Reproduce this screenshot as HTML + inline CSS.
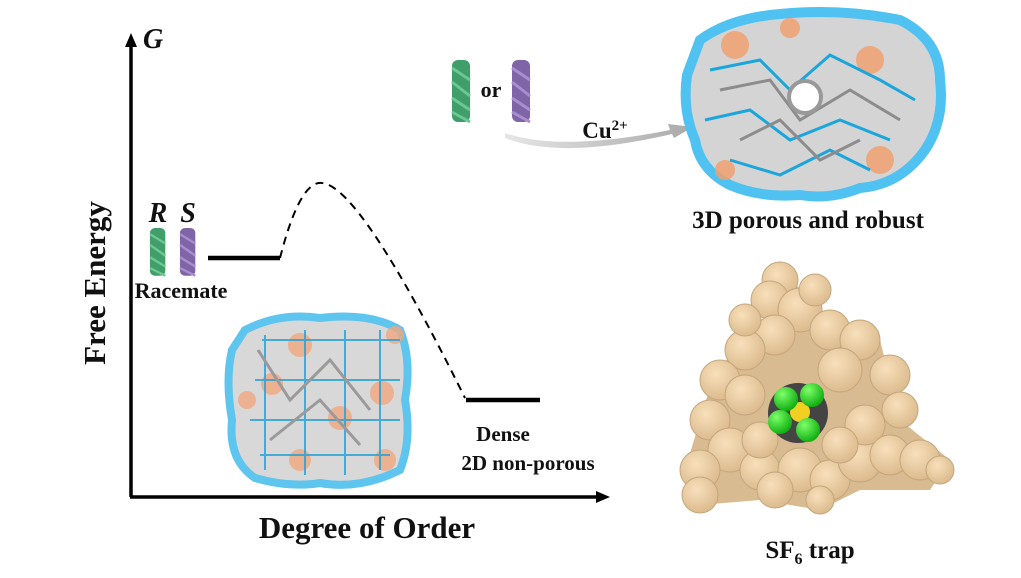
<!DOCTYPE html>
<html><head><meta charset="utf-8"><style>
html,body{margin:0;padding:0;background:#fff;}
svg{display:block;}
text{font-family:"Liberation Serif",serif;font-weight:bold;fill:#111;}
</style></head><body>
<svg width="1021" height="578" viewBox="0 0 1021 578" xmlns="http://www.w3.org/2000/svg">
<defs>
<radialGradient id="tan" cx="40%" cy="35%" r="65%"><stop offset="0" stop-color="#f8e0bb"/><stop offset="1" stop-color="#dcbb8e"/></radialGradient>
<radialGradient id="grn" cx="35%" cy="30%" r="70%"><stop offset="0" stop-color="#7dff6a"/><stop offset="1" stop-color="#12b012"/></radialGradient>
<linearGradient id="arr" x1="0" x2="1"><stop offset="0" stop-color="#e6e6e6"/><stop offset="1" stop-color="#a9a9a9"/></linearGradient>
<g id="helixG"><rect x="0" y="0" width="18" height="62" rx="6" fill="#3f9e6a"/><path d="M0 8 L18 20 M0 22 L18 36 M0 38 L18 50 M0 52 L18 62" stroke="#6cc792" stroke-width="3"/></g>
<g id="helixP"><rect x="0" y="0" width="18" height="62" rx="6" fill="#8064a8"/><path d="M0 8 L18 20 M0 22 L18 36 M0 38 L18 50 M0 52 L18 62" stroke="#a88fcb" stroke-width="3"/></g>
</defs>

<!-- axes -->
<line x1="131" y1="497" x2="131" y2="44" stroke="#000" stroke-width="3.5"/>
<polygon points="131,33 125,47 137,47" fill="#000"/>
<line x1="130" y1="497" x2="598" y2="497" stroke="#000" stroke-width="3.5"/>
<polygon points="610,497 596,491 596,503" fill="#000"/>
<text x="143" y="48" font-size="28" font-style="italic">G</text>
<text transform="translate(105,283) rotate(-90)" font-size="31" text-anchor="middle">Free Energy</text>
<text x="367" y="538" font-size="31" text-anchor="middle">Degree of Order</text>

<!-- levels -->
<line x1="208" y1="258" x2="280" y2="258" stroke="#000" stroke-width="4.5"/>
<path d="M280 258 Q300 180 322 183 Q360 186 465 398" fill="none" stroke="#000" stroke-width="2" stroke-dasharray="8,6"/>
<line x1="466" y1="400" x2="540" y2="400" stroke="#000" stroke-width="4.5"/>
<text x="503" y="441" font-size="21" text-anchor="middle">Dense</text>
<text x="528" y="470" font-size="21" text-anchor="middle">2D non-porous</text>

<text x="158" y="222" font-size="28" font-style="italic" text-anchor="middle">R</text>
<text x="188" y="222" font-size="28" font-style="italic" text-anchor="middle">S</text>
<g transform="translate(150,228) scale(0.85,0.77)"><use href="#helixG"/></g>
<g transform="translate(180,228) scale(0.85,0.77)"><use href="#helixP"/></g>
<text x="181" y="298" font-size="22" text-anchor="middle">Racemate</text>

<!-- bottom-left molecule -->
<g>
<path d="M245 330 Q280 312 320 318 Q370 312 400 330 Q412 360 405 400 Q412 440 400 470 Q360 490 320 483 Q290 488 255 478 Q228 460 232 420 Q225 380 232 350 Z" fill="#d8d8d8" stroke="#5ec5ef" stroke-width="8"/>
<circle cx="300" cy="345" r="12" fill="#f0a880" opacity=".8"/><circle cx="272" cy="384" r="11" fill="#f0a880" opacity=".8"/>
<circle cx="382" cy="393" r="12" fill="#f0a880" opacity=".8"/><circle cx="340" cy="418" r="12" fill="#f0a880" opacity=".8"/>
<circle cx="300" cy="460" r="11" fill="#f0a880" opacity=".8"/><circle cx="385" cy="460" r="11" fill="#f0a880" opacity=".8"/>
<circle cx="247" cy="400" r="9" fill="#f0a880" opacity=".8"/><circle cx="395" cy="335" r="9" fill="#f0a880" opacity=".8"/>
<path d="M262 340 L400 340 M255 380 L400 380 M250 420 L400 420 M260 455 L390 455 M265 335 L265 470 M305 330 L305 475 M345 330 L345 475 M380 330 L380 470" stroke="#1fa0d8" stroke-width="2" fill="none" opacity=".8"/>
<path d="M258 350 L290 400 L330 360 L370 410 M270 440 L320 400 L360 445" stroke="#9a9a9a" stroke-width="3" fill="none"/>
</g>

<!-- top helices + arrow -->
<use href="#helixG" x="452" y="60"/>
<text x="491" y="97" font-size="22" text-anchor="middle">or</text>
<use href="#helixP" x="512" y="60"/>
<path d="M505 133 Q560 152 670 130 L668 124 L693 127 L674 138 L672 134 Q560 160 505 138 Z" fill="url(#arr)"/>
<text x="605" y="138" font-size="23" text-anchor="middle">Cu<tspan font-size="15" dy="-8">2+</tspan></text>

<!-- top molecule -->
<g>
<path d="M700 40 Q730 18 780 14 Q840 8 900 20 Q940 40 940 80 Q945 120 925 150 Q900 185 860 188 Q830 200 800 195 Q760 198 730 185 Q700 170 695 140 Q682 110 687 75 Z" fill="#d4d4d4" stroke="#4fc2f2" stroke-width="10"/>
<circle cx="735" cy="45" r="14" fill="#f0a070" opacity=".85"/><circle cx="870" cy="60" r="14" fill="#f0a070" opacity=".85"/>
<circle cx="880" cy="160" r="14" fill="#f0a070" opacity=".85"/><circle cx="725" cy="170" r="10" fill="#f0a070" opacity=".85"/>
<circle cx="790" cy="28" r="10" fill="#f0a070" opacity=".85"/>
<path d="M710 70 L760 60 L790 90 L830 55 L880 80 L915 100 M705 120 L750 110 L790 140 L840 120 L890 140 M730 160 L780 175 L830 150 L870 170" stroke="#1aa6dc" stroke-width="3" fill="none"/>
<path d="M720 90 L770 80 L800 120 L850 90 L900 120 M740 140 L780 120 L820 160 L860 140" stroke="#8c8c8c" stroke-width="3" fill="none"/>
<circle cx="805" cy="97" r="16" fill="#fff" stroke="#999" stroke-width="4"/>
</g>
<text x="808" y="228" font-size="25" text-anchor="middle">3D porous and robust</text>

<!-- SF6 trap -->
<path d="M780 268 L830 320 L880 340 L900 420 L950 460 L930 490 L860 490 L820 510 L760 500 L700 505 L685 470 L700 420 L715 370 L760 330 Z" fill="#d9bb92"/>
<g fill="url(#tan)" stroke="#c4a67d" stroke-width="1">
<circle cx="780" cy="280" r="18"/><circle cx="770" cy="300" r="19"/><circle cx="800" cy="310" r="22"/><circle cx="775" cy="335" r="20"/>
<circle cx="830" cy="330" r="20"/><circle cx="860" cy="340" r="20"/><circle cx="840" cy="370" r="22"/><circle cx="890" cy="375" r="20"/>
<circle cx="745" cy="350" r="20"/><circle cx="720" cy="380" r="20"/><circle cx="745" cy="395" r="20"/><circle cx="710" cy="420" r="20"/>
<circle cx="730" cy="450" r="22"/><circle cx="700" cy="470" r="20"/><circle cx="700" cy="495" r="18"/><circle cx="760" cy="470" r="20"/>
<circle cx="800" cy="470" r="22"/><circle cx="830" cy="480" r="20"/><circle cx="860" cy="460" r="22"/><circle cx="865" cy="425" r="20"/>
<circle cx="890" cy="455" r="20"/><circle cx="920" cy="460" r="20"/><circle cx="940" cy="470" r="14"/><circle cx="775" cy="490" r="18"/>
<circle cx="820" cy="500" r="14"/><circle cx="900" cy="410" r="18"/><circle cx="815" cy="290" r="16"/><circle cx="745" cy="320" r="16"/>
<circle cx="760" cy="440" r="18"/><circle cx="840" cy="445" r="18"/>
</g>
<circle cx="798" cy="413" r="30" fill="#444"/>
<circle cx="800" cy="412" r="10" fill="#f0d020"/>
<g fill="url(#grn)"><circle cx="786" cy="399" r="12"/><circle cx="812" cy="395" r="12"/><circle cx="780" cy="422" r="12"/><circle cx="808" cy="430" r="12"/></g>
<text x="810" y="558" font-size="25" text-anchor="middle">SF<tspan font-size="16" dy="6">6</tspan><tspan dy="-6"> trap</tspan></text>
</svg>
</body></html>
